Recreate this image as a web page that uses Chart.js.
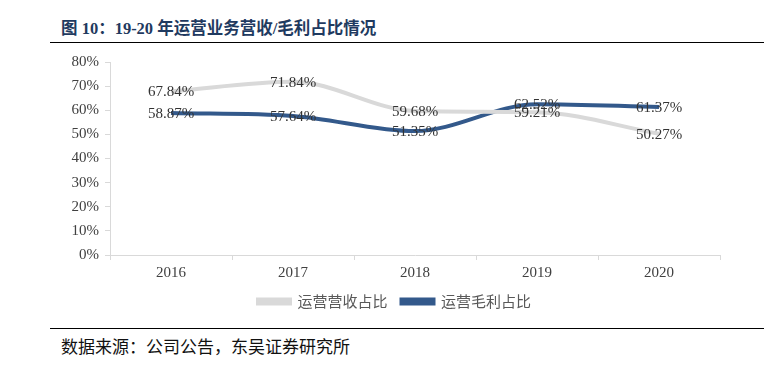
<!DOCTYPE html>
<html>
<head>
<meta charset="utf-8">
<script src="https://cdn.jsdelivr.net/npm/chart.js@4"></script>
<style>
  body { margin: 0; background: #fff; }
  #page { position: relative; width: 764px; height: 371px; overflow: hidden; }
  #title { position: absolute; left: 61px; top: 15px; font: bold 16.5px "Liberation Serif", "Noto Sans CJK SC"; color: #1f3a60; white-space: nowrap; }
  .rule { position: absolute; left: 50px; right: 0; height: 0; border-top: 1.5px solid #000; }
  #source { position: absolute; left: 61px; top: 333px; font: 17px "Noto Sans CJK SC"; color: #111; white-space: nowrap; }
  #wrap { position: absolute; left: 0; top: 0; width: 764px; height: 319px; }
</style>
</head>
<body>
<div id="page">
  <div id="title">图 10：19-20 年运营业务营收/毛利占比情况</div>
  <div class="rule" style="top:42px"></div>
  <div id="wrap"><canvas id="chart"></canvas></div>
  <div class="rule" style="top:328px"></div>
  <div id="source">数据来源：公司公告，东吴证券研究所</div>
</div>
<script>
const years = ['2016', '2017', '2018', '2019', '2020']
const revenueShare = [67.84, 71.84, 59.68, 59.21, 50.27]
const profitShare = [58.87, 57.64, 51.35, 62.52, 61.37]
const seriesNames = ['运营营收占比', '运营毛利占比']
const seriesColors = ['#d9d9d9', '#33598b']

// write the value on top of each point
const pointLabels = {
    id: 'pointLabels',
    afterDatasetsDraw(chart) {
        const ctx = chart.ctx
        ctx.save()
        ctx.font = '15px "Liberation Serif"'
        ctx.fillStyle = '#333'
        ctx.textAlign = 'center'
        ctx.textBaseline = 'middle'
        chart.data.datasets.forEach((ds, i) => {
            chart.getDatasetMeta(i).data.forEach((pt, j) => {
                ctx.fillText(ds.data[j].toFixed(2) + '%', pt.x, pt.y + 1)
            })
        })
        ctx.restore()
    }
}

new Chart(document.getElementById('chart'), {
    type: 'line',
    data: {
        labels: years,
        datasets: [
            {
                label: seriesNames[0],
                data: revenueShare,
                borderColor: seriesColors[0],
                backgroundColor: seriesColors[0],
                borderWidth: 4,
                pointRadius: 0,
                cubicInterpolationMode: 'monotone'
            },
            {
                label: seriesNames[1],
                data: profitShare,
                borderColor: seriesColors[1],
                backgroundColor: seriesColors[1],
                borderWidth: 4,
                pointRadius: 0,
                cubicInterpolationMode: 'monotone'
            }
        ]
    },
    options: {
        responsive: true,
        maintainAspectRatio: false,
        animation: false,
        layout: { padding: { top: 62, right: 44, left: 69, bottom: 0 } },
        plugins: {
            legend: {
                position: 'bottom',
                labels: {
                    boxWidth: 32,
                    boxHeight: 4,
                    padding: 14,
                    color: '#595959',
                    font: { family: 'Noto Sans CJK SC', size: 15 }
                }
            },
            tooltip: { enabled: false }
        },
        scales: {
            x: {
                offset: true,
                grid: { drawOnChartArea: false, drawTicks: true, offset: true, tickLength: 5, color: '#d9d9d9' },
                border: { color: '#d9d9d9', width: 1 },
                ticks: { color: '#404040', font: { family: 'Liberation Serif', size: 15 }, padding: 4 },
                afterFit: s => { s.height = 25 }
            },
            y: {
                min: 0,
                max: 80,
                grid: { drawOnChartArea: false, drawTicks: true, tickLength: 5, color: '#d9d9d9' },
                border: { color: '#d9d9d9', width: 1 },
                ticks: {
                    stepSize: 10,
                    color: '#404040',
                    font: { family: 'Liberation Serif', size: 15 },
                    padding: 6,
                    callback: v => v + '%'
                },
                afterFit: s => { s.width = 41 }
            }
        }
    },
    plugins: [pointLabels]
})
</script>
</body>
</html>
